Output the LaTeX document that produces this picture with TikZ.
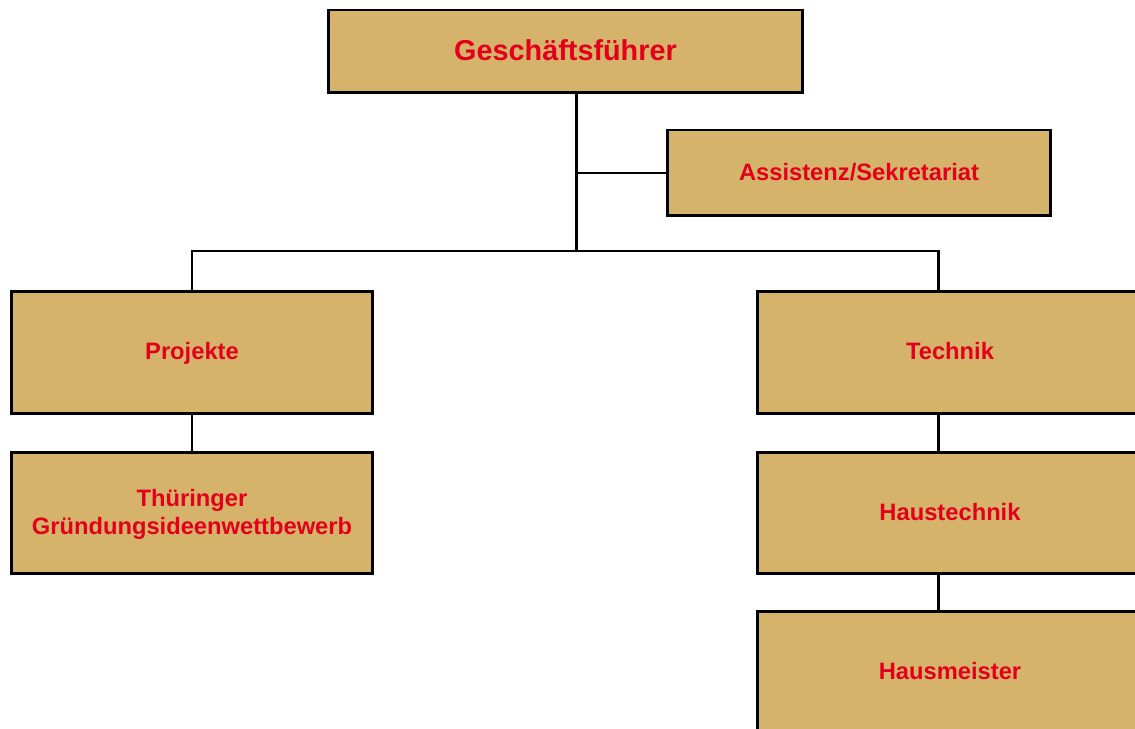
\documentclass[tikz,border=0pt]{standalone}
\usepackage{fontspec}
\setmainfont{Liberation Sans}
\usetikzlibrary{positioning}
\definecolor{boxtan}{RGB}{214,179,107}
\definecolor{labelred}{RGB}{226,0,26}

\begin{document}
\begin{tikzpicture}[x=0.02cm, y=-0.02cm,
		unit/.style={draw=black, line width=1.7pt, fill=boxtan, text=labelred, align=center, inner sep=0pt,
			text depth=0.25ex, font=\fontsize{13.5}{15.5}\selectfont\bfseries, minimum width=7.24cm, minimum height=2.44cm},
		link/.style={line width=1.7pt}]
		\path[use as bounding box, clip] (0,0) rectangle (1135,729);
		% top level
		\node[unit, minimum width=9.5cm, minimum height=1.66cm, font=\fontsize{16.4}{19}\selectfont\bfseries] (gf) at (565.5,51.5) {Geschäftsführer};
		\node[unit, minimum width=7.68cm, minimum height=1.72cm] (ass) at (859,173) {Assistenz/Sekretariat};
		% left branch
		\node[unit] (proj) at (192,352.5) {Projekte};
		\node[unit] (tgw) at (192,513) {Thüringer\\Gründungsideenwettbewerb};
		% right branch
		\node[unit, minimum width=7.72cm] (tech) at (950,352.5) {Technik};
		\node[unit, minimum width=7.72cm] (htech) at (950,513) {Haustechnik};
		\node[unit, minimum width=7.72cm] (hmeister) at (950,672) {Hausmeister};
		
		\coordinate (trunk) at (576,173);
		\coordinate (hub) at (576,251);
		\coordinate (rbranch) at (938,251);
		\draw[link] (gf.south -| trunk) -- (hub);
		\draw[link] (trunk) -- (ass.west);
		\draw[link] (proj.north) |- (rbranch) -- (tech.north -| rbranch);
		\draw[link] (proj.south) -- (tgw.north);
		\draw[link] (tech.south -| rbranch) -- (htech.north -| rbranch);
		\draw[link] (htech.south -| rbranch) -- (hmeister.north -| rbranch);
	\end{tikzpicture}
\end{document}
